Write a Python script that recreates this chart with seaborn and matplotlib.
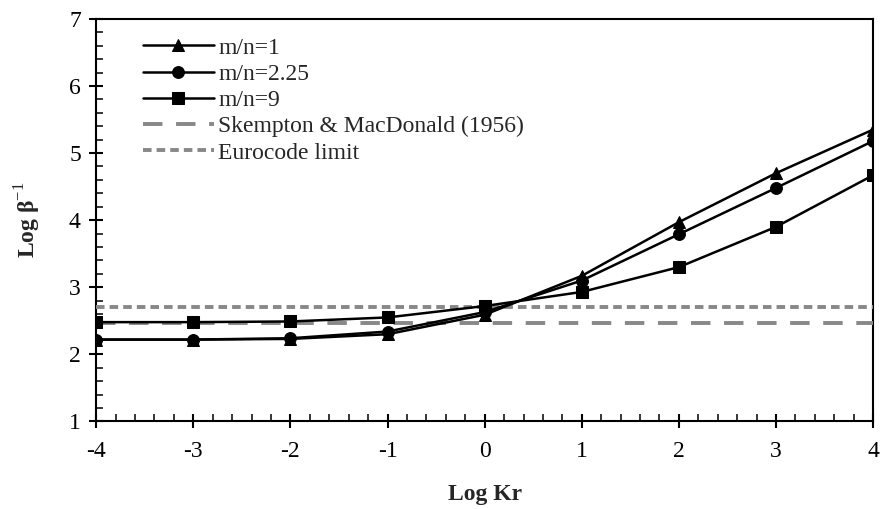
import numpy as np
import pandas as pd
import matplotlib
matplotlib.use('Agg')
import matplotlib.pyplot as plt
import seaborn as sns
from matplotlib.ticker import MultipleLocator

# =====================
# DATA
# =====================
log_kr = [-4, -3, -2, -1, 0, 1, 2, 3, 4]
mn_1 = [2.22, 2.22, 2.23, 2.30, 2.59, 3.17, 3.97, 4.70, 5.35]
mn_225 = [2.22, 2.22, 2.24, 2.34, 2.63, 3.10, 3.79, 4.48, 5.18]
mn_9 = [2.48, 2.48, 2.49, 2.55, 2.72, 2.93, 3.30, 3.90, 4.67]
skempton = 2.47
eurocode = 2.70

series_names = ['m/n=1', 'm/n=2.25', 'm/n=9']
series_markers = ['^', 'o', 's']

df = pd.DataFrame({'kr': log_kr * 3,
                   'beta': mn_1 + mn_225 + mn_9,
                   'case': [n for n in series_names for _ in log_kr]})

sns.set_style('ticks')
plt.rcParams['font.family'] = ['Liberation Serif', 'DejaVu Serif']
plt.rcParams['axes.unicode_minus'] = False
plt.rcParams['mathtext.fontset'] = 'custom'
plt.rcParams['mathtext.rm'] = 'Liberation Serif'
plt.rcParams['mathtext.bf'] = 'Liberation Serif:bold'

fig, ax = plt.subplots(figsize=(8.82, 5.09), dpi=100)

for name, mk in zip(series_names, series_markers):
    sub = df[df['case'] == name]
    sns.lineplot(data=sub, x='kr', y='beta', ax=ax, color='black', lw=1.8,
                 marker=mk, markersize=8.5, markeredgecolor='black',
                 label=name, zorder=4)

ax.axhline(skempton, color='#888888', lw=2.8, dashes=(5, 3.5),
           label='Skempton & MacDonald (1956)', zorder=3)
ax.axhline(eurocode, color='#888888', lw=2.8, dashes=(2.2, 1.3),
           label='Eurocode limit', zorder=3)

ax.set_xlim(-4, 4)
ax.set_ylim(1, 7)
ax.xaxis.set_major_locator(MultipleLocator(1))
ax.xaxis.set_minor_locator(MultipleLocator(0.2))
ax.yaxis.set_major_locator(MultipleLocator(1))
ax.yaxis.set_minor_locator(MultipleLocator(0.2))
ax.tick_params(which='major', direction='inout', length=10, width=1.5,
               labelsize=17, colors='black')
ax.tick_params(which='minor', direction='in', length=5, width=1.3)
ax.tick_params(axis='x', pad=9)
ax.tick_params(axis='y', pad=6)
for s in ax.spines.values():
    s.set_linewidth(1.5)
    s.set_color('black')

ax.set_xlabel('Log Kr', fontsize=17, fontweight='bold', labelpad=16)
ax.set_ylabel(r'Log β$^{\mathrm{-1}}$', fontsize=17, fontweight='bold',
              labelpad=19)

ax.legend(loc='upper left', bbox_to_anchor=(0.042, 0.99), frameon=False,
          fontsize=17, handlelength=3.0, handletextpad=0.2,
          labelspacing=0.2, borderaxespad=0.2)

fig.subplots_adjust(left=0.109, right=0.99, top=0.963, bottom=0.172)
plt.savefig('out.png', dpi=100)
